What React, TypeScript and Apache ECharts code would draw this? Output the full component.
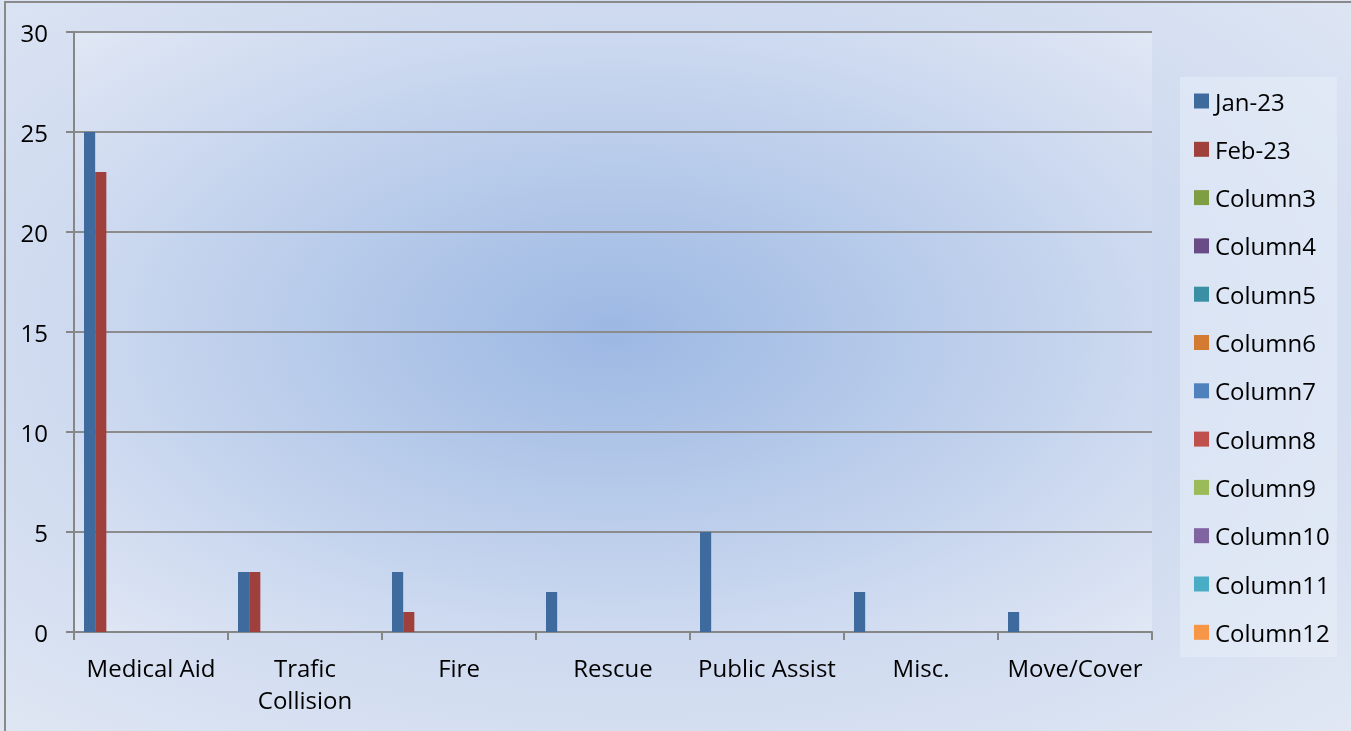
import React, { useEffect, useRef } from "react";
import * as echarts from "echarts";

const categories = ["Medical Aid", "Trafic\nCollision", "Fire", "Rescue", "Public Assist", "Misc.", "Move/Cover"];
const seriesNames = ["Jan-23", "Feb-23", "Column3", "Column4", "Column5", "Column6", "Column7", "Column8", "Column9", "Column10", "Column11", "Column12"];
const jan23 = [25, 3, 3, 2, 5, 2, 1];
const feb23 = [23, 3, 1, 0, 0, 0, 0];
const emptyCol: (number | null)[] = [null, null, null, null, null, null, null];
const seriesValues = [jan23, feb23, emptyCol, emptyCol, emptyCol, emptyCol, emptyCol, emptyCol, emptyCol, emptyCol, emptyCol, emptyCol];
const colors = ["#3F6A9E", "#A0403D", "#7F9E43", "#694C87", "#3A8FA5", "#D37B33", "#4F81BD", "#C0504D", "#9BBB59", "#8064A2", "#4BACC6", "#F79646"];
const yTicks = { min: 0, max: 30, interval: 5 };

const FONT = "'Open Sans', sans-serif";

export default function App() {
  const ref = useRef<HTMLDivElement>(null);
  useEffect(() => {
    if (!ref.current) return;
    const chart = echarts.init(ref.current, undefined, { renderer: "svg" });
    chart.setOption({
      animation: false,
      color: colors,
      textStyle: { fontFamily: FONT },
      grid: {
        left: 74,
        right: 199,
        top: 32,
        bottom: 99,
        show: true,
        borderWidth: 0,
        backgroundColor: {
          type: "radial",
          x: 0.5,
          y: 0.5,
          r: 0.72,
          colorStops: [
            { offset: 0, color: "#9CB8E3" },
            { offset: 1, color: "#E2E8F5" },
          ],
        },
      },
      graphic: [
        {
          type: "rect",
          shape: { x: 1180, y: 77, width: 157, height: 580 },
          style: { fill: "rgba(236,241,250,0.45)" },
          z: -1,
        },
      ],
      legend: {
        orient: "vertical",
        left: 1194,
        top: 89,
        padding: 0,
        itemWidth: 15,
        itemHeight: 15,
        itemGap: 24.3,
        icon: "rect",
        data: seriesNames,
        textStyle: { fontSize: 24, color: "#000", fontFamily: FONT, padding: [0, 0, 0, 1] },
      },
      xAxis: {
        type: "category",
        data: categories,
        boundaryGap: true,
        axisLine: { lineStyle: { color: "#868686", width: 2 } },
        axisTick: { show: true, length: 8, lineStyle: { color: "#868686", width: 2 } },
        axisLabel: { fontSize: 24, color: "#000", margin: 19, lineHeight: 32, interval: 0, fontFamily: FONT },
        splitLine: { show: false },
      },
      yAxis: {
        type: "value",
        min: yTicks.min,
        max: yTicks.max,
        interval: yTicks.interval,
        axisLine: { show: true, lineStyle: { color: "#868686", width: 2 } },
        axisTick: { show: true, length: 8, lineStyle: { color: "#868686", width: 2 } },
        axisLabel: { fontSize: 24, color: "#000", margin: 26, fontFamily: FONT },
        splitLine: { show: true, lineStyle: { color: "#8C8C8C", width: 2 } },
      },
      series: seriesNames.map((name, i) => ({
        name,
        type: "bar",
        data: seriesValues[i],
        barGap: "0%",
        barCategoryGap: "13%",
        itemStyle: { color: colors[i] },
      })),
    });
    return () => chart.dispose();
  }, []);

  return (
    <div
      style={{
        position: "fixed",
        left: 0,
        top: 0,
        width: 1351,
        height: 731,
        overflow: "hidden",
        background: "radial-gradient(ellipse farthest-corner at 47% 45%, #A9C1E7 0%, #C9D6EE 45%, #E1E8F4 100%)",
      }}
    >
      <div
        style={{
          position: "absolute",
          left: 4,
          top: 1,
          width: 1400,
          height: 800,
          border: "2px solid #8A8A8A",
          boxSizing: "border-box",
        }}
      />
      <div ref={ref} style={{ position: "absolute", left: 0, top: 0, width: 1351, height: 731 }} />
    </div>
  );
}
